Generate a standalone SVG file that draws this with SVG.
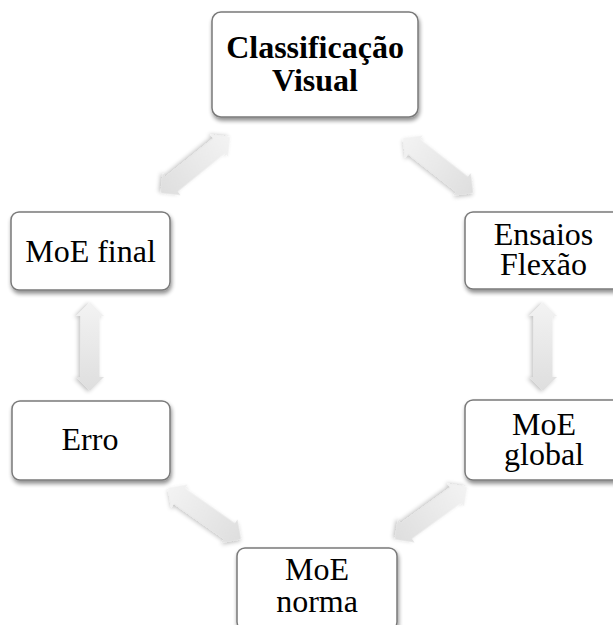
<svg xmlns="http://www.w3.org/2000/svg" width="613" height="625" viewBox="0 0 613 625">
  <style>
    .box { fill: #ffffff; stroke: #7a7a7a; stroke-width: 1.5; filter: url(#shadow); }
    .lbl { font-family: "Liberation Serif", "Times New Roman", serif; font-size: 32px; fill: #000000; text-anchor: middle; }
    .bold { font-weight: bold; }
    .arrow { fill: url(#arrowFill); filter: url(#arrowShadow); }
  </style>
  <defs>
    <filter id="shadow" x="-10%" y="-10%" width="125%" height="130%">
      <feGaussianBlur in="SourceAlpha" stdDeviation="2"/>
      <feOffset dx="1" dy="3" result="b"/>
      <feComponentTransfer><feFuncA type="linear" slope="0.45"/></feComponentTransfer>
      <feMerge><feMergeNode/><feMergeNode in="SourceGraphic"/></feMerge>
    </filter>
    <filter id="arrowShadow" x="-20%" y="-40%" width="140%" height="180%">
      <feGaussianBlur in="SourceAlpha" stdDeviation="2"/>
      <feOffset dx="1" dy="2"/>
      <feComponentTransfer><feFuncA type="linear" slope="0.25"/></feComponentTransfer>
      <feMerge><feMergeNode/><feMergeNode in="SourceGraphic"/></feMerge>
    </filter>
    <linearGradient id="arrowFill" x1="0" y1="0" x2="1" y2="0">
      <stop offset="0" stop-color="#f3f3f3"/>
      <stop offset="1" stop-color="#dedede"/>
    </linearGradient>
    <!-- double-headed block arrow, laid along the x axis from 0 to 89 -->
    <path id="dblArrow" d="M0,0 L14,-14 L14,-9.5 L75,-9.5 L75,-14 L89,0 L75,14 L75,9.5 L14,9.5 L14,14 Z"/>
  </defs>

  <g id="connectors">
    <!-- Classificação Visual <-> MoE final -->
    <use href="#dblArrow" class="arrow" transform="translate(230,137) rotate(141)"/>
    <!-- Classificação Visual <-> Ensaios Flexão -->
    <use href="#dblArrow" class="arrow" transform="translate(403,138) rotate(38)"/>
    <!-- Ensaios Flexão <-> MoE global -->
    <use href="#dblArrow" class="arrow" transform="translate(543,302) rotate(90)"/>
    <!-- MoE final <-> Erro -->
    <use href="#dblArrow" class="arrow" transform="translate(90,302) rotate(90)"/>
    <!-- Erro <-> MoE norma -->
    <use href="#dblArrow" class="arrow" transform="translate(168,488) rotate(35)"/>
    <!-- MoE global <-> MoE norma -->
    <use href="#dblArrow" class="arrow" transform="translate(467,487) rotate(144)"/>
  </g>

  <g id="classificacao-visual">
    <rect class="box" x="212" y="12" width="206" height="105" rx="9"/>
    <text class="lbl bold" x="315" y="58">Classificação</text>
    <text class="lbl bold" x="315" y="91">Visual</text>
  </g>

  <g id="moe-final">
    <rect class="box" x="11" y="212" width="159" height="78" rx="8"/>
    <text class="lbl" x="90.5" y="262">MoE final</text>
  </g>

  <g id="ensaios-flexao">
    <rect class="box" x="465" y="212" width="157" height="77" rx="8"/>
    <text class="lbl" x="543.5" y="245">Ensaios</text>
    <text class="lbl" x="543.5" y="275">Flexão</text>
  </g>

  <g id="erro">
    <rect class="box" x="12" y="401" width="158" height="79" rx="8"/>
    <text class="lbl" x="90" y="450">Erro</text>
  </g>

  <g id="moe-global">
    <rect class="box" x="465" y="400" width="157" height="80" rx="8"/>
    <text class="lbl" x="544" y="435">MoE</text>
    <text class="lbl" x="544" y="465">global</text>
  </g>

  <g id="moe-norma">
    <rect class="box" x="237" y="548" width="160" height="82" rx="8"/>
    <text class="lbl" x="317" y="580">MoE</text>
    <text class="lbl" x="317" y="612">norma</text>
  </g>
</svg>
